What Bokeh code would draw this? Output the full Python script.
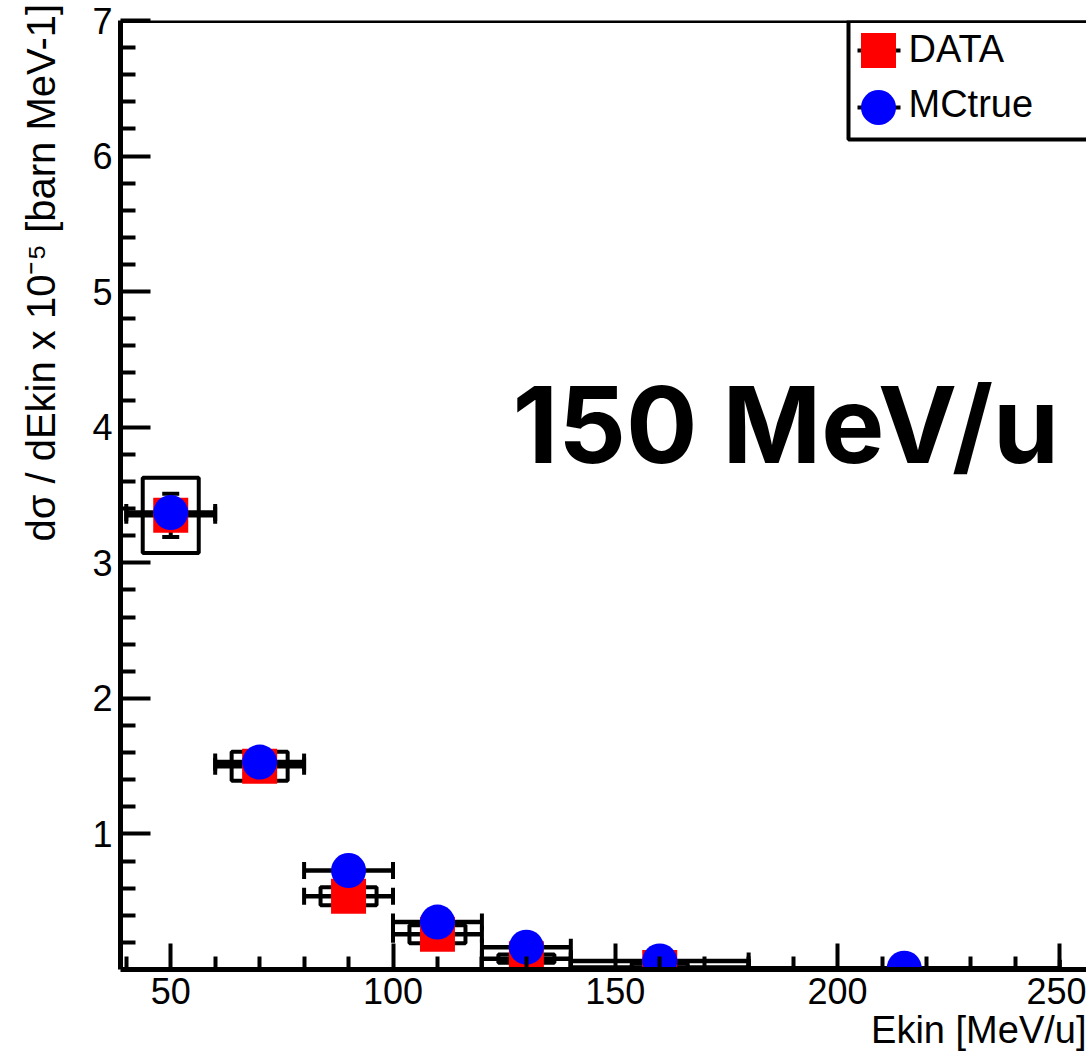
import numpy as np
from bokeh.plotting import figure
from bokeh.models import (ColumnDataSource, Whisker, TeeHead, FixedTicker, Label,
                          BoxAnnotation, Span, Range1d, Title)
from bokeh.embed import file_html
from bokeh.resources import INLINE

# ---------------- data ----------------
bin_low = [40, 60, 80, 100, 120, 140, 180]
bin_high = [60, 80, 100, 120, 140, 180, 250]
ekin = [50, 70, 90, 110, 130, 160, 215]

data_y = [3.35, 1.50, 0.54, 0.26, 0.08, 0.015]
data_stat = [0.16, 0.05, 0.03, 0.03, 0.02, 0.01]
data_sys = [0.277, 0.107, 0.066, 0.066, 0.03, 0.03]
sys_half_width = [6.3, 6.3, 6.3, 6.3, 6.3, 6.3]

mc_y = [3.37, 1.53, 0.73, 0.35, 0.165, 0.063, 0.01]

x_ticks = [50, 100, 150, 200, 250]
x_minor = [40, 60, 70, 80, 90, 110, 120, 130, 140, 160, 170, 180, 190,
           210, 220, 230, 240]
y_ticks = [1, 2, 3, 4, 5, 6, 7]
y_minor = [round(0.2 * i, 1) for i in range(1, 35) if i % 5 != 0]

x_title = "Ekin [MeV/u]"
y_title = "dσ / dEkin x 10⁻⁵ [barn MeV-1]"
energy_label = "150 MeV/u"
legend_labels = ["DATA", "MCtrue"]

X0, X1 = 38.7, 256.0
Y0, Y1 = 0.0, 7.0

# ---------------- figure ----------------
W, H = 1086, 1060
ML, MR, MT, MB = 120, 0, 20, 91
FW, FH = W - ML - MR, H - MT - MB

p = figure(width=W, height=H, x_range=Range1d(X0, X1), y_range=Range1d(Y0, Y1),
           output_backend="svg", toolbar_location=None,
           min_border_left=ML, min_border_right=MR, min_border_top=MT,
           min_border_bottom=MB, outline_line_color=None,
           background_fill_color="white", border_fill_color="white")
p.grid.visible = False

FONT = "Liberation Sans"

xa = p.xaxis[0]
xa.ticker = FixedTicker(ticks=x_ticks, minor_ticks=x_minor)
ya = p.yaxis[0]
ya.ticker = FixedTicker(ticks=y_ticks, minor_ticks=y_minor)
for ax, maj, mnr in ((xa, 26, 13), (ya, 30, 15)):
    ax.axis_line_width = 5
    ax.axis_line_color = "black"
    ax.major_tick_in = maj
    ax.major_tick_out = 0
    ax.minor_tick_in = mnr
    ax.minor_tick_out = 0
    ax.major_tick_line_width = 4
    ax.minor_tick_line_width = 4
    ax.major_tick_line_color = "black"
    ax.minor_tick_line_color = "black"
    ax.major_label_text_font = FONT
    ax.major_label_text_font_size = "36px"
    ax.major_label_text_color = "black"
xa.major_label_standoff = 8
ya.major_label_standoff = 8

# x title: ROOT style, aligned to the right end of the axis
p.add_layout(Title(text=x_title, align="right", text_font=FONT,
                   text_font_size="38px", text_font_style="normal",
                   text_color="black", standoff=0), "below")

# y title: axis label pushed toward the top end of the axis with leading
# no-break spaces (ROOT aligns axis titles to the axis end)
ya.axis_label = "\u00a0" * 40 + y_title
ya.axis_label_text_font = FONT
ya.axis_label_text_font_size = "40px"
ya.axis_label_text_font_style = "normal"
ya.axis_label_text_color = "black"
ya.axis_label_standoff = 26

# top frame border
p.add_layout(Span(location=Y1, dimension="width", line_color="black", line_width=5))

# ---------------- sources ----------------
n = len(data_y)
dsrc = ColumnDataSource(dict(
    x=ekin[:n], y=data_y, lo=bin_low[:n], hi=bin_high[:n],
    ylo=[a - b for a, b in zip(data_y, data_stat)],
    yhi=[a + b for a, b in zip(data_y, data_stat)],
    bw=[2 * w for w in sys_half_width],
    bh=[2 * s for s in data_sys],
))
msrc = ColumnDataSource(dict(x=ekin, y=mc_y, lo=bin_low, hi=bin_high))

# systematic boxes
p.rect(x="x", y="y", width="bw", height="bh", source=dsrc, fill_color=None,
       line_color="black", line_width=4)

def tee():
    return TeeHead(size=17, line_width=4, line_color="black")

for src in (dsrc, msrc):
    p.add_layout(Whisker(source=src, base="y", lower="lo", upper="hi",
                         dimension="width", line_width=4.5, line_color="black",
                         lower_head=tee(), upper_head=tee()))
p.add_layout(Whisker(source=dsrc, base="x", lower="ylo", upper="yhi",
                     dimension="height", line_width=4, line_color="black",
                     lower_head=tee(), upper_head=tee()))

p.scatter(x="x", y="y", source=dsrc, marker="square", size=35,
          fill_color="red", line_color=None)
p.scatter(x="x", y="y", source=msrc, marker="circle", size=35,
          fill_color="blue", line_color=None)

# ---------------- helpers: page pixel -> data / frame-screen ----------------
def dx(px):
    return X0 + (px - ML) * (X1 - X0) / FW

def dy(py):
    return Y1 - (py - MT) * (Y1 - Y0) / FH

def fx(px):
    return px - ML

def fy(py):
    return (MT + FH) - py

def baseline_y(py, size):
    # Label with alphabetic baseline renders ~0.37 em below its anchor
    return fy(py - 0.37 * size)

# ---------------- legend (drawn by hand) ----------------
p.add_layout(BoxAnnotation(left=fx(848), right=fx(1100), top=fy(20), bottom=fy(139),
                           left_units="screen", right_units="screen",
                           top_units="screen", bottom_units="screen",
                           fill_color="white", fill_alpha=1.0, line_color="black",
                           line_alpha=1.0, line_width=4, level="underlay"))
leg_y = [50, 107]
p.segment(x0=[dx(857)] * 2, x1=[dx(900)] * 2, y0=[dy(v) for v in leg_y],
          y1=[dy(v) for v in leg_y], line_color="black", line_width=4)
p.scatter(x=[dx(878)], y=[dy(leg_y[0])], marker="square", size=35,
          fill_color="red", line_color=None)
p.scatter(x=[dx(878)], y=[dy(leg_y[1])], marker="circle", size=35,
          fill_color="blue", line_color=None)
for txt, base in zip(legend_labels, (63, 118)):
    p.add_layout(Label(x=fx(908), y=baseline_y(base, 38), x_units="screen",
                       y_units="screen", text=txt, text_font=FONT,
                       text_font_size="38px", text_baseline="alphabetic",
                       text_align="left", text_color="black"))

# ---------------- big energy label ----------------
# (font size deliberately not a multiple of 100: "bold 100px" trips the SVG font parser)
p.add_layout(Label(x=fx(512), y=baseline_y(463, 106), x_units="screen",
                   y_units="screen", text=energy_label, text_font="Inter",
                   text_font_style="bold", text_font_size="106px",
                   text_baseline="alphabetic", text_align="left",
                   text_color="black"))

open("out.html", "w").write(file_html(p, INLINE))
